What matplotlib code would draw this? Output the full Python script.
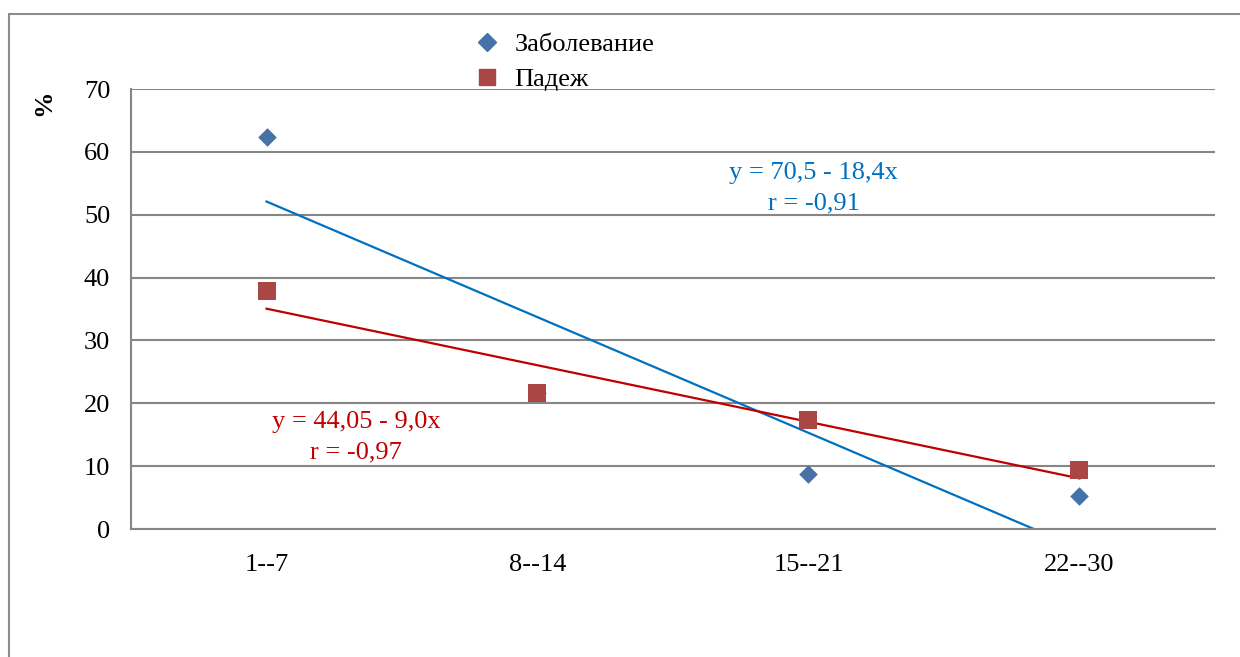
import matplotlib
matplotlib.use("Agg")
import matplotlib.pyplot as plt
from matplotlib.patches import Rectangle
from matplotlib.lines import Line2D

categories = ["1--7", "8--14", "15--21", "22--30"]
zabolevanie = [62.3, 21.7, 8.7, 5.3]
padezh = [37.8, 21.7, 17.3, 9.4]
trend_zab = (70.5, -18.4)   # intercept, slope
trend_pad = (44.05, -9.0)
label_zab = ["y = 70,5 - 18,4x", "r = -0,91"]
label_pad = ["y = 44,05 - 9,0x", "r = -0,97"]
yticks = [0, 10, 20, 30, 40, 50, 60, 70]

plt.rcParams['font.family'] = ['Liberation Serif', 'DejaVu Serif']
FS = 19

fig = plt.figure(figsize=(12.4, 6.57), dpi=100)
fig.patches.append(Rectangle((9/1240, -0.1), 1.2, 1 - 14/657 + 0.1, transform=fig.transFigure,
                             fill=False, edgecolor='#8c8c8c', linewidth=1.5))
ax = fig.add_axes([131/1240, 1 - 529/657, (1215 - 131)/1240, (529 - 89)/657])

x = list(range(1, len(categories) + 1))
grid_c = '#868686'
for t in yticks:
    ax.axhline(t, color=grid_c, linewidth=1.5, zorder=1)

xl = [1, 4]
ax.plot(xl, [trend_zab[0] + trend_zab[1] * v for v in xl], color='#0070C0', linewidth=1.6, zorder=2)
ax.plot(xl, [trend_pad[0] + trend_pad[1] * v for v in xl], color='#C00000', linewidth=1.6, zorder=2)

ax.scatter(x, zabolevanie, marker='D', s=90, color='#4672A8', zorder=3, linewidths=0)
ax.scatter(x, padezh, marker='s', s=170, color='#AA4643', zorder=4, linewidths=0)

ax.set_xlim(0.5, 4.5)
ax.set_ylim(0, 70)
ax.set_xticks(x)
ax.set_xticklabels(categories, fontsize=FS)
ax.set_yticks(yticks)
ax.set_yticklabels([str(t) for t in yticks], fontsize=FS)
ax.tick_params(axis='y', length=0, pad=15)
ax.tick_params(axis='x', length=0, pad=18)
for s in ['top', 'right']:
    ax.spines[s].set_visible(False)
for s in ['left', 'bottom']:
    ax.spines[s].set_color(grid_c)
    ax.spines[s].set_linewidth(1.5)
ax.set_ylabel('%', fontsize=FS, fontweight='bold')
ax.yaxis.set_label_coords(-0.070, 0.968)

ax.text(3.02, 54.2, "\n".join(label_zab), color='#0070C0', fontsize=FS, ha='center', va='center',
        linespacing=1.45)
ax.text(1.33, 14.6, "\n".join(label_pad), color='#C00000', fontsize=FS, ha='center', va='center',
        linespacing=1.45)

handles = [Line2D([], [], marker='D', linestyle='', color='#4672A8', markersize=9),
           Line2D([], [], marker='s', linestyle='', color='#AA4643', markersize=12)]
fig.legend(handles, ["Заболевание", "Падеж"], loc='center left',
           bbox_to_anchor=(447/1240, 1 - 62/657), frameon=False, fontsize=FS,
           handletextpad=0.45, labelspacing=0.45, handlelength=1.2)

fig.savefig('out.png', dpi=100)
